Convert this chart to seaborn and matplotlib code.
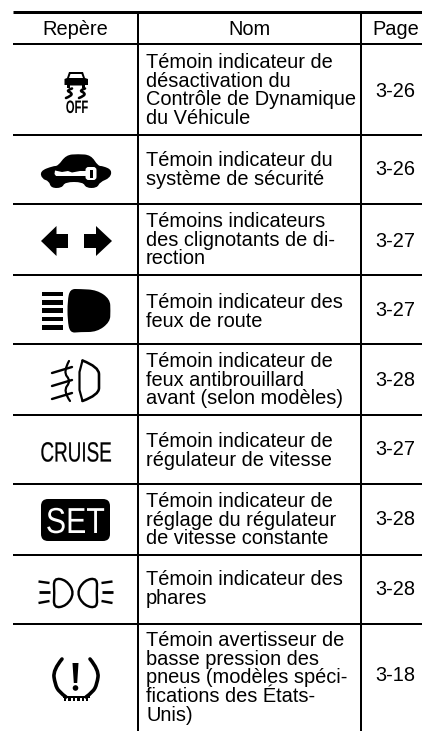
import numpy as np
import matplotlib
matplotlib.use("Agg")
import matplotlib.pyplot as plt
from matplotlib.path import Path
from matplotlib.patches import PathPatch, FancyBboxPatch, Polygon, Circle, Rectangle
from matplotlib.patheffects import AbstractPathEffect
from matplotlib.transforms import Affine2D
import seaborn as sns

headers = ["Repère", "Nom", "Page"]
names = [
    ["Témoin indicateur de", "désactivation du", "Contrôle de Dynamique", "du Véhicule"],
    ["Témoin indicateur du", "système de sécurité"],
    ["Témoins indicateurs", "des clignotants de di-", "rection"],
    ["Témoin indicateur des", "feux de route"],
    ["Témoin indicateur de", "feux antibrouillard", "avant (selon modèles)"],
    ["Témoin indicateur de", "régulateur de vitesse"],
    ["Témoin indicateur de", "réglage du régulateur", "de vitesse constante"],
    ["Témoin indicateur des", "phares"],
    ["Témoin avertisseur de", "basse pression des", "pneus (modèles spéci-", "fications des États-", "Unis)"],
]
pages = ["3-26", "3-26", "3-27", "3-27", "3-28", "3-27", "3-28", "3-28", "3-18"]

# layout, pixels
first_baseline = [68, 166, 227, 308, 367, 447, 507, 585, 646]
page_baseline = [97, 175, 247, 316, 386, 455, 525, 595, 681]
rule_y = [44, 135, 204, 275, 344, 415, 484, 555, 624]
line_step = 18.7

sns.set_theme(style="white")
plt.rcParams["font.family"] = ["Liberation Sans", "DejaVu Sans"]

fig = plt.figure(figsize=(4.22, 7.31), dpi=100)
ax = fig.add_axes([0, 0, 1, 1])
ax.set_xlim(0, 422)
ax.set_ylim(731, 0)
ax.axis("off")

PX = 0.72
K = "#000000"
ax.hlines(11.5, 13, 422, color=K, lw=3 * PX)
ax.hlines(rule_y, 13, 422, color=K, lw=2 * PX)
ax.vlines([138, 361], 11, 731, color=K, lw=2 * PX)


class Condense(AbstractPathEffect):
    """Narrow a text horizontally about a centre x (no condensed face installed)."""
    def __init__(self, cx, sx, stroke=0.0):
        super().__init__()
        self.cx, self.sx, self.stroke = cx, sx, stroke

    def draw_path(self, renderer, gc, tpath, affine, rgbFace=None):
        a = affine + Affine2D().translate(-self.cx, 0).scale(self.sx, 1).translate(self.cx, 0)
        if self.stroke:
            gc.set_linewidth(self.stroke)
            gc.set_foreground(rgbFace)
        renderer.draw_path(gc, tpath, a, rgbFace)


FS = 14.4
for x, h in zip([75.5, 249.5, 395.5], headers):
    ax.text(x, 35, h, ha="center", va="baseline", fontsize=FS, color=K)
for lines, b0, p, pb in zip(names, first_baseline, pages, page_baseline):
    for i, s in enumerate(lines):
        ax.text(146, b0 + i * line_step, s, ha="left", va="baseline", fontsize=FS, color=K)
    ax.text(395, pb, p, ha="center", va="baseline", fontsize=FS, color=K)


def poly(pts, **kw):
    kw.setdefault("fc", K)
    kw.setdefault("ec", "none")
    ax.add_patch(Polygon(pts, closed=True, **kw))


def curve(verts, lw=2.0, ec=K):
    v = np.array(verts, float)
    codes = [Path.MOVETO]
    out = [v[0]]
    for i in range(1, len(v) - 1):
        mid = (v[i] + v[i + 1]) / 2 if i < len(v) - 2 else v[i + 1]
        out += [v[i], mid]
        codes += [Path.CURVE3, Path.CURVE3]
    ax.add_patch(PathPatch(Path(out, codes), fc="none", ec=ec, lw=lw * PX, capstyle="round", joinstyle="round"))


def blob(verts, fc=K, lw=0.0, ec=K):
    """Closed smooth loop: quadratic arcs with each vertex as control point."""
    v = np.array(verts, float)
    n = len(v)
    mids = (v + np.roll(v, -1, axis=0)) / 2
    out = [mids[-1]]
    codes = [Path.MOVETO]
    for i in range(n):
        out += [v[i], mids[i]]
        codes += [Path.CURVE3, Path.CURVE3]
    ax.add_patch(PathPatch(Path(out, codes), fc=fc, ec=ec if lw else "none", lw=lw * PX))


# Icon 1: skidding car, OFF
poly([(69, 72), (83, 72), (85, 78), (88, 79), (88, 85), (85, 85), (85, 88), (82, 88), (82, 85.5),
      (70, 85.5), (70, 88), (67, 88), (67, 85), (64.5, 85), (64.5, 79), (67, 78)])
poly([(70.5, 74), (81.5, 74), (83, 78), (69, 78)], fc="white")
curve([(72, 88.5), (66, 90.5), (72, 93), (71, 96), (66, 98)], lw=2.6)
curve([(85, 88.5), (79, 90.5), (85, 93), (84, 96), (79, 98)], lw=2.6)
ax.text(77, 113, "OFF", ha="center", va="baseline", fontsize=13, fontweight="bold", color=K,
        path_effects=[Condense(77, 0.62)])

# Icon 2: car with key
blob([(40, 171), (53, 166), (58, 166), (66, 155), (78, 154), (91, 155), (98, 166), (103, 166), (112, 170),
      (110, 178), (100, 182), (97, 188), (86, 188), (83, 182), (65, 182), (62, 188), (51, 188), (49, 181), (42, 179)])
poly([(55, 170.5), (62, 172), (68, 171), (72, 172.5), (80, 171), (87, 171), (87, 176), (56, 176), (54.5, 174)], fc="white")
ax.add_patch(FancyBboxPatch((85.5, 167), 11, 13, boxstyle="round,pad=0,rounding_size=3", fc="white", ec="none"))
ax.add_patch(Rectangle((90, 170), 3, 7.5, fc=K, ec="none"))

# Icon 3: arrows
poly([(41, 241), (56.5, 226), (56.5, 234), (68, 234), (68, 248), (56.5, 248), (56.5, 256)])
poly([(112, 241), (96, 226), (96, 234), (84, 234), (84, 248), (96, 248), (96, 256)])

# Icon 4: main beam
for y0 in [291.5, 300, 308, 316.5, 325]:
    ax.add_patch(Rectangle((42, y0), 21, 4.8, fc=K, ec="none"))
blob([(80, 289), (97, 290), (110, 299), (110.5, 311), (110, 322), (97, 332), (80, 332), (70, 333), (67.5, 320),
      (67.5, 301), (70, 289)])

# Icon 5: fog lamp
curve([(82.5, 360.5), (99, 367), (99, 381), (99, 395), (82.5, 401)], lw=2.6)
ax.plot([82.5, 79.5, 79.5, 82.5], [360.5, 372, 390, 401], color=K, lw=2.2 * PX)
for y1, y2 in [(373, 367), (386, 380), (399, 393)]:
    ax.plot([52, 72], [y1, y2], color=K, lw=2.4 * PX, solid_capstyle="round")
curve([(69, 361), (63, 372), (71, 381), (63, 391), (70, 401)], lw=2.2)

# Icon 6: CRUISE
ax.text(76, 461.5, "CRUISE", ha="center", va="baseline", fontsize=20, color=K,
        path_effects=[Condense(76, 0.68, stroke=0.15)])

# Icon 7: SET
ax.add_patch(FancyBboxPatch((41, 499), 69, 42, boxstyle="round,pad=0,rounding_size=7", fc=K, ec="none"))
ax.text(75.3, 533, "SET", ha="center", va="baseline", fontsize=26, color="white",
        path_effects=[Condense(75.3, 0.84)])

# Icon 8: headlamps
for sgn in (1, -1):
    X = lambda v: 75.5 + sgn * v
    blob([(X(-22), 578), (X(-9), 580), (X(-1), 593), (X(-9), 606), (X(-22), 608), (X(-21), 593)],
         fc="none", lw=2.4)
    for a, b, w in [(581.5, 583, 2.4), (592, 592, 2.8), (603, 601, 2.4)]:
        ax.plot([X(-37), X(-26)], [a, b], color=K, lw=w * PX, solid_capstyle="butt")

# Icon 9: low tyre pressure
curve([(62, 659), (53, 670), (55, 684), (59, 692), (66, 697)], lw=3.6)
curve([(90, 659), (99, 670), (97, 684), (93, 692), (86, 697)], lw=3.6)
ax.add_patch(Rectangle((63, 695.5), 27, 2.6, fc=K, ec="none"))
for tx in np.arange(64, 90, 4.4):
    ax.add_patch(Rectangle((tx, 697.5), 2.4, 3, fc=K, ec="none"))
poly([(72.5, 663), (78.5, 663), (77.2, 683), (73.8, 683)])
ax.add_patch(Circle((75.5, 688), 2.8, fc=K, ec="none"))

fig.savefig("out.png", dpi=100, facecolor="white")
